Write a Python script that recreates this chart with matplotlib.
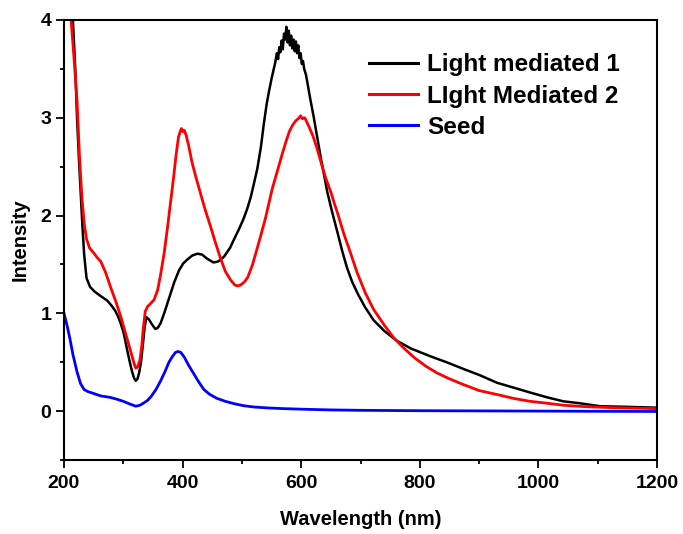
import matplotlib
matplotlib.use("Agg")
import matplotlib.pyplot as plt
from matplotlib.ticker import MultipleLocator

plt.rcParams["font.family"] = ["Liberation Sans", "DejaVu Sans"]
plt.rcParams["font.weight"] = "bold"

# ── data (wavelength nm, intensity) ─────────────────────────────────────────
wl_lm1 = [208, 212, 215, 219, 222, 225, 228, 231, 234, 238, 244, 252, 261, 273,
          280, 286, 291, 296, 301, 306, 311, 315, 318, 321, 324, 327, 330, 333,
          336, 339, 343, 348, 354, 358, 363, 370, 378, 386, 394, 401, 408, 416,
          425, 433, 441, 452, 460, 470, 480, 487, 495, 503, 509, 515, 520, 526,
          532, 537, 542, 546, 550, 553, 556, 559, 561, 563, 565, 567, 569, 571,
          573, 575, 577, 579, 581, 583, 585, 587, 589, 591, 593, 595, 597, 599,
          601, 603, 605, 608, 611, 615, 621, 627, 633, 639, 644, 652, 661, 669,
          677, 686, 697, 708, 722, 740, 761, 785, 818, 845, 874, 900, 930, 958,
          986, 1015, 1042, 1070, 1104, 1140, 1170, 1200]
lm1 = [4.6, 4.3, 4.0, 3.5, 3.0, 2.6, 2.25, 1.9, 1.6, 1.36, 1.27, 1.22, 1.18, 1.13,
       1.08, 1.03, 0.97, 0.89, 0.79, 0.64, 0.50, 0.40, 0.34, 0.31, 0.33, 0.40, 0.51,
       0.68, 0.86, 0.96, 0.94, 0.89, 0.84, 0.85, 0.90, 1.02, 1.17, 1.32, 1.44, 1.51,
       1.55, 1.59, 1.61, 1.60, 1.56, 1.52, 1.53, 1.58, 1.67, 1.76, 1.86, 1.97, 2.07,
       2.19, 2.32, 2.48, 2.70, 2.94, 3.15, 3.28, 3.40, 3.48, 3.56, 3.66, 3.60, 3.72,
       3.67, 3.79, 3.70, 3.86, 3.80, 3.93, 3.77, 3.89, 3.74, 3.84, 3.71, 3.80, 3.68,
       3.78, 3.66, 3.74, 3.61, 3.66, 3.55, 3.58, 3.50, 3.44, 3.34, 3.20, 3.01, 2.80,
       2.59, 2.40, 2.24, 2.04, 1.83, 1.64, 1.47, 1.32, 1.18, 1.06, 0.93, 0.82, 0.72,
       0.64, 0.56, 0.50, 0.43, 0.37, 0.29, 0.24, 0.19, 0.14, 0.10, 0.08, 0.05, 0.045,
       0.04, 0.035]

wl_lm2 = [205, 212, 217, 222, 226, 230, 234, 238, 243, 251, 256, 262, 270, 279,
          288, 296, 304, 313, 318, 321, 324, 328, 331, 334, 337, 341, 346, 352,
          358, 363, 369, 375, 380, 385, 389, 393, 396, 398, 400, 403, 406, 410,
          416, 423, 430, 438, 447, 455, 464, 472, 481, 488, 493, 498, 504, 510,
          518, 526, 532, 540, 551, 560, 568, 574, 580, 586, 591, 595, 599, 602,
          606, 613, 620, 627, 635, 642, 650, 655, 661, 666, 672, 683, 694, 708,
          722, 740, 756, 772, 790, 810, 829, 850, 874, 900, 930, 958, 986, 1015,
          1042, 1080, 1126, 1160, 1200]
lm2 = [4.6, 4.0, 3.6, 3.17, 2.62, 2.2, 1.92, 1.76, 1.67, 1.61, 1.57, 1.53, 1.42,
       1.26, 1.11, 0.96, 0.79, 0.60, 0.49, 0.44, 0.45, 0.52, 0.66, 0.86, 1.02, 1.07,
       1.10, 1.14, 1.24, 1.40, 1.62, 1.90, 2.15, 2.40, 2.62, 2.80, 2.86, 2.89, 2.86,
       2.87, 2.82, 2.72, 2.54, 2.38, 2.23, 2.06, 1.89, 1.73, 1.56, 1.43, 1.34, 1.29,
       1.28, 1.29, 1.32, 1.37, 1.50, 1.67, 1.80, 1.98, 2.27, 2.46, 2.63, 2.75, 2.86,
       2.93, 2.97, 2.99, 3.02, 2.99, 3.00, 2.91, 2.81, 2.68, 2.51, 2.37, 2.24, 2.14,
       2.03, 1.93, 1.81, 1.62, 1.42, 1.21, 1.04, 0.88, 0.75, 0.65, 0.55, 0.46, 0.39,
       0.33, 0.27, 0.21, 0.17, 0.13, 0.10, 0.08, 0.06, 0.045, 0.035, 0.03, 0.025]

wl_seed = [200, 205, 210, 215, 222, 228, 234, 240, 250, 262, 278, 290, 300, 310,
           321, 328, 335, 341, 347, 355, 363, 370, 377, 383, 388, 392, 397, 403,
           410, 419, 427, 436, 446, 458, 472, 486, 503, 520, 545, 571, 610, 650,
           700, 800, 900, 1000, 1100, 1200]
seed = [1.0, 0.88, 0.74, 0.58, 0.40, 0.28, 0.22, 0.20, 0.18, 0.155, 0.14, 0.12,
        0.10, 0.075, 0.05, 0.06, 0.085, 0.11, 0.15, 0.22, 0.31, 0.40, 0.50, 0.56,
        0.60, 0.61, 0.60, 0.55, 0.47, 0.38, 0.30, 0.22, 0.17, 0.13, 0.10, 0.077,
        0.055, 0.042, 0.032, 0.025, 0.018, 0.012, 0.008, 0.004, 0.002, 0.0, -0.002,
        -0.004]

labels = ["Light mediated 1", "LIght Mediated 2", "Seed"]
colors = ["#000000", "#ff0000", "#0000ff"]

# ── figure ───────────────────────────────────────────────────────────────────
fig = plt.figure(figsize=(6.83, 5.34), dpi=100)
ax = fig.add_axes([0.0937, 0.1386, 0.8683, 0.824])

ax.plot(wl_lm1, lm1, color=colors[0], lw=1.8, label=labels[0])
ax.plot(wl_lm2, lm2, color=colors[1], lw=2.0, label=labels[1])
ax.plot(wl_seed, seed, color=colors[2], lw=2.0, label=labels[2])

ax.set_xlim(200, 1200)
ax.set_ylim(-0.5, 4)
ax.xaxis.set_major_locator(MultipleLocator(200))
ax.xaxis.set_minor_locator(MultipleLocator(100))
ax.yaxis.set_major_locator(MultipleLocator(1))
ax.yaxis.set_minor_locator(MultipleLocator(0.5))
ax.tick_params(which="both", direction="out", width=1.3, labelsize=14,
               top=False, right=False)
ax.tick_params(which="major", length=5.5)
ax.tick_params(which="minor", length=3)
ax.tick_params(axis="x", which="major", pad=5.5)
for lbl in ax.get_xticklabels() + ax.get_yticklabels():
    lbl.set_fontweight("bold")
for sp in ax.spines.values():
    sp.set_linewidth(1.5)

ax.set_xlabel("Wavelength (nm)", fontsize=14.5, fontweight="bold", labelpad=13)
ax.set_ylabel("Intensity", fontsize=14.5, fontweight="bold", labelpad=8)

leg = ax.legend(loc="upper left", bbox_to_anchor=(0.515, 0.924), frameon=False,
                fontsize=17.5, handlelength=2.0, handletextpad=0.38,
                labelspacing=0.34, borderaxespad=0, borderpad=0)
for t in leg.get_texts():
    t.set_fontweight("bold")
for h in leg.get_lines():
    h.set_linewidth(2.2)

fig.savefig("out.png", dpi=100, facecolor="white")
